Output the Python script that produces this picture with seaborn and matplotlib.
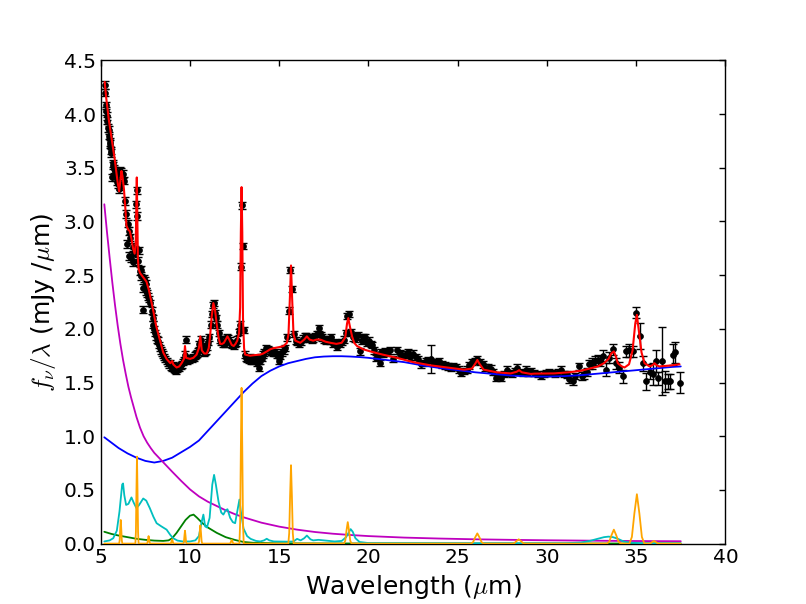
import matplotlib
matplotlib.use("Agg")
import matplotlib.pyplot as plt
import seaborn as sns
import pandas as pd

# ---------------- data ----------------
DATA_X = [5.22, 5.25, 5.28, 5.31, 5.34, 5.37, 5.41, 5.44, 5.47, 5.50, 5.53, 5.56, 5.60, 5.62, 5.66, 5.70,
          5.75, 5.79, 5.84, 5.88, 5.93, 5.97, 6.02, 6.06, 6.10, 6.16, 6.22, 6.29, 6.35, 6.41, 6.47, 6.53,
          6.56, 6.60, 6.66, 6.72, 6.78, 6.81, 6.87, 6.93, 6.98, 7.02, 7.05, 7.10, 7.15, 7.19, 7.24, 7.28,
          7.34, 7.38, 7.43, 7.47, 7.52, 7.56,
          7.60, 7.66, 7.72, 7.78, 7.85, 7.90, 7.94, 8.00, 8.06, 8.12, 8.17, 8.22, 8.28, 8.31, 8.37, 8.43,
          8.50, 8.56, 8.62, 8.69, 8.75, 8.81, 8.88, 8.94, 8.97, 9.03, 9.10, 9.16, 9.22, 9.28, 9.34, 9.40,
          9.47, 9.53, 9.60, 9.66, 9.72, 9.78, 9.84, 9.90, 9.96, 10.03, 10.09, 10.15, 10.22, 10.28, 10.34,
          10.40, 10.47, 10.53, 10.59, 10.65, 10.72, 10.78, 10.84, 10.90, 10.97, 11.03, 11.09, 11.15, 11.22,
          11.28, 11.35, 11.41, 11.47, 11.53, 11.60, 11.66, 11.72, 11.78, 11.84, 11.90, 11.97, 12.03, 12.09,
          12.15, 12.22, 12.28, 12.34, 12.40, 12.47, 12.53, 12.59, 12.65, 12.72, 12.78, 12.84, 12.90, 12.97,
          13.03, 13.09, 13.15, 13.22, 13.28, 13.34, 13.40, 13.47, 13.53, 13.59, 13.66, 13.72, 13.78, 13.84,
          13.90, 13.97, 14.03, 14.09, 14.15,
          14.25, 14.35, 14.45, 14.55, 14.65, 14.75, 14.85, 14.96, 15.05, 15.15, 15.25, 15.34, 15.44, 15.53,
          15.62, 15.72, 15.82, 15.92, 16.02, 16.12, 16.22, 16.32, 16.42, 16.52, 16.62, 16.72, 16.82, 16.92,
          17.02, 17.12, 17.22, 17.32, 17.42, 17.52, 17.62, 17.72, 17.82, 17.92, 18.02, 18.12, 18.22, 18.32,
          18.42, 18.52, 18.62, 18.72, 18.82, 18.92, 19.02, 19.12, 19.22, 19.32, 19.42, 19.52, 19.62, 19.72,
          19.82, 19.92, 20.02, 20.12, 20.22, 20.32, 20.42, 20.52, 20.62, 20.72, 20.82, 20.92,
          21.05, 21.20, 21.40, 21.60, 21.75, 21.90, 22.05, 22.20, 22.35, 22.50, 22.65, 22.80, 22.92, 23.05,
          23.20, 23.35, 23.50, 23.65, 23.80, 23.95, 24.10, 24.30, 24.45, 24.60, 24.75, 24.90, 25.05, 25.20,
          25.35, 25.50, 25.65, 25.80, 25.95, 26.10, 26.25, 26.40, 26.55, 26.70, 26.85, 27.00, 27.15, 27.30,
          27.45, 27.60, 27.75, 27.90, 28.05, 28.20, 28.35, 28.50, 28.65, 28.80, 28.95, 29.10, 29.30, 29.48,
          29.66, 29.82, 29.96, 30.12, 30.30, 30.45, 30.60, 30.79, 30.95, 31.10, 31.25, 31.44, 31.60, 31.80,
          31.97, 32.10, 32.25, 32.38, 32.52, 32.70, 32.85, 33.00, 33.12, 33.30, 33.50, 33.69, 33.87, 34.06,
          34.25, 34.44, 34.60, 34.80, 35.00, 35.20, 35.37, 35.56, 35.75, 35.93, 36.10, 36.25, 36.45, 36.60,
          36.78, 36.92, 37.06, 37.20, 37.43]
DATA_Y = [4.27, 4.20, 4.08, 4.03, 3.98, 3.94, 3.87, 3.85, 3.80, 3.74, 3.72, 3.66, 3.64, 3.41, 3.54, 3.52,
          3.49, 3.47, 3.43, 3.41, 3.37, 3.35, 3.30, 3.33, 3.47, 3.46, 3.44, 3.38, 3.19, 3.07, 2.79, 2.98,
          2.68, 2.91, 2.85, 2.66, 2.76, 2.62, 2.71, 2.74, 3.16, 3.29, 3.05, 2.63, 2.73, 2.54, 2.55, 2.49,
          2.18, 2.38, 2.47, 2.45, 2.42, 2.35,
          2.33, 2.30, 2.28, 2.24, 2.17, 2.10, 2.04, 2.00, 1.96, 1.93, 1.90, 1.89, 1.85, 1.82, 1.80, 1.78,
          1.76, 1.74, 1.72, 1.70, 1.68, 1.67, 1.68, 1.65, 1.64, 1.66, 1.63, 1.62, 1.61, 1.63, 1.65, 1.64,
          1.66, 1.67, 1.69, 1.71, 1.76, 1.90, 1.70, 1.72, 1.71, 1.73, 1.72, 1.74, 1.73, 1.75, 1.76,
          1.77, 1.79, 1.86, 1.90, 1.84, 1.79, 1.78, 1.79, 1.80, 1.83, 1.88, 1.92, 2.04, 2.14,
          2.22, 2.24, 2.15, 2.10, 2.04, 1.96, 1.90, 1.88, 1.89, 1.86, 1.88, 1.86, 1.90, 1.92,
          1.91, 1.89, 1.86, 1.85, 1.87, 1.84, 1.86, 1.87, 1.90, 1.97, 2.04, 2.58, 3.15, 2.77,
          1.99, 1.76, 1.73, 1.72, 1.71, 1.74, 1.70, 1.72, 1.70, 1.73, 1.71, 1.73, 1.68, 1.64,
          1.70, 1.74, 1.73, 1.76, 1.78,
          1.82, 1.81, 1.80, 1.79, 1.78, 1.78, 1.76, 1.70, 1.75, 1.78, 1.80, 1.82, 1.92, 2.17,
          2.55, 2.37, 1.95, 1.89, 1.88, 1.86, 1.88, 1.91, 1.93, 1.93, 1.91, 1.92, 1.90, 1.91,
          1.93, 1.95, 2.01, 1.94, 1.92, 1.90, 1.89, 1.90, 1.89, 1.92, 1.86, 1.88, 1.83, 1.87,
          1.86, 1.88, 1.90, 1.96, 2.12, 2.14, 1.97, 1.92, 1.91, 1.93, 1.94, 1.79, 1.89, 1.92,
          1.92, 1.87, 1.89, 1.86, 1.85, 1.80, 1.73, 1.75, 1.68, 1.78, 1.77, 1.79,
          1.78, 1.80, 1.72, 1.80, 1.77, 1.76, 1.76, 1.78, 1.74, 1.77, 1.74, 1.72, 1.67, 1.68,
          1.70, 1.71, 1.72, 1.68, 1.69, 1.70, 1.67, 1.66, 1.65, 1.64, 1.65, 1.645, 1.62, 1.59,
          1.61, 1.62, 1.66, 1.69, 1.70, 1.72, 1.69, 1.67, 1.64, 1.64, 1.63, 1.60, 1.54, 1.57,
          1.54, 1.58, 1.62, 1.59, 1.58, 1.61, 1.64, 1.60, 1.59, 1.62, 1.59, 1.61, 1.59, 1.58,
          1.56, 1.58, 1.59, 1.60, 1.59, 1.58, 1.60, 1.62, 1.58, 1.575, 1.53, 1.51, 1.56, 1.65,
          1.56, 1.575, 1.60, 1.67, 1.68, 1.70, 1.71, 1.70, 1.75, 1.62, 1.73, 1.81, 1.68, 1.64,
          1.56, 1.79, 1.80, 1.79, 2.15, 1.93, 1.68, 1.51, 1.60, 1.58, 1.70, 1.54, 1.70, 1.51,
          1.51, 1.51, 1.76, 1.78, 1.50]
DATA_ERR = ([0.035] * 54 + [0.03] * 108 + [0.03] * 68 +
            [0.03] * 16 + [0.13] + [0.03] * 53 +
            [0.04, 0.04, 0.04, 0.04, 0.05, 0.05, 0.05, 0.05, 0.05, 0.06, 0.05, 0.05, 0.05, 0.05,
             0.06, 0.05, 0.06, 0.05, 0.05, 0.12, 0.07, 0.08, 0.07, 0.10, 0.10, 0.06, 0.32, 0.10,
             0.07, 0.07, 0.10, 0.10, 0.10])

FIT_X = [5.22, 5.30, 5.45, 5.60, 5.79, 5.95, 6.03, 6.10, 6.16, 6.22, 6.30, 6.38, 6.44, 6.55, 6.63, 6.72,
         6.81, 6.90, 6.96, 6.99, 7.02, 7.05, 7.08, 7.12, 7.20, 7.38, 7.56, 7.70, 7.94, 8.10, 8.31, 8.50,
         8.69, 8.90, 9.00, 9.06, 9.25, 9.40, 9.53, 9.66, 9.72, 9.78, 10.00, 10.19, 10.37, 10.50, 10.58,
         10.66, 10.80, 10.94, 11.05, 11.12, 11.22, 11.31, 11.40, 11.50, 11.60, 11.69, 11.80, 11.90, 12.00,
         12.10, 12.20, 12.34, 12.45, 12.55, 12.65, 12.75, 12.81, 12.85, 12.89, 12.93, 12.97, 13.03, 13.09,
         13.37, 13.60, 13.93, 14.10, 14.31, 14.50, 14.68, 15.00, 15.24, 15.43, 15.52, 15.60, 15.66, 15.72,
         15.80, 15.90, 16.18, 16.40, 16.55, 16.70, 16.90, 17.10, 17.30, 17.60, 17.87, 18.20, 18.50, 18.70,
         18.80, 18.87, 18.95, 19.08, 19.20, 19.36, 19.70, 20.10, 20.80, 21.60, 22.50, 23.48, 24.40, 25.35,
         25.80, 26.00, 26.10, 26.20, 26.45, 27.20, 27.97, 28.30, 28.44, 28.60, 29.10, 29.30, 30.40, 31.20,
         31.90, 32.40, 32.85, 33.20, 33.45, 33.60, 33.75, 33.87, 33.97, 34.20, 34.35, 34.60, 34.80, 34.95,
         35.04, 35.15, 35.30, 35.47, 35.75, 35.90, 36.03, 36.15, 36.30, 37.00, 37.43]
FIT_Y = [4.30, 4.16, 3.95, 3.78, 3.57, 3.36, 3.28, 3.38, 3.47, 3.42, 3.30, 3.12, 2.96, 2.92, 2.91, 2.84,
         2.75, 2.70, 2.80, 3.10, 3.41, 3.05, 2.66, 2.56, 2.52, 2.48, 2.44, 2.36, 2.17, 2.03, 1.90, 1.78,
         1.72, 1.68, 1.70, 1.67, 1.64, 1.65, 1.68, 1.72, 1.84, 1.73, 1.72, 1.73, 1.76, 1.82, 1.93,
         1.80, 1.77, 1.77, 1.82, 1.92, 2.12, 2.24, 2.18, 2.04, 1.92, 1.86, 1.86, 1.87, 1.90,
         1.93, 1.90, 1.85, 1.84, 1.86, 1.89, 1.96, 2.20, 2.90, 3.32, 2.90, 2.10, 1.82, 1.76,
         1.75, 1.755, 1.76, 1.77, 1.79, 1.81, 1.82, 1.83, 1.84, 1.87, 1.95, 2.30, 2.59, 2.30,
         1.95, 1.89, 1.87, 1.90, 1.93, 1.90, 1.89, 1.90, 1.90, 1.88, 1.87, 1.86, 1.87, 1.92,
         2.05, 2.10, 2.03, 1.93, 1.87, 1.84, 1.81, 1.79, 1.76, 1.73, 1.69, 1.66, 1.64, 1.62,
         1.63, 1.68, 1.71, 1.68, 1.62, 1.595, 1.585, 1.60, 1.615, 1.595, 1.58, 1.583, 1.585, 1.595,
         1.61, 1.63, 1.65, 1.68, 1.72, 1.77, 1.79, 1.74, 1.68, 1.65, 1.64, 1.67, 1.80, 2.05,
         2.13, 1.98, 1.78, 1.68, 1.65, 1.66, 1.68, 1.66, 1.65, 1.66, 1.67]

CONT_X = [5.2, 5.6, 6.0, 6.5, 7.0, 7.5, 8.0, 8.5, 9.0, 9.5, 10.0, 10.5, 11.0, 11.5, 12.0, 12.5, 13.0,
          13.5, 14.0, 14.5, 15.0, 15.5, 16.0, 16.5, 17.0, 17.5, 18.0, 18.5, 19.0, 19.5, 20.0, 21.0, 22.0,
          23.0, 24.0, 25.0, 26.0, 27.0, 28.0, 29.0, 30.0, 31.0, 32.0, 33.0, 34.0, 35.0, 36.0, 37.0, 37.5]
CONT_Y = [0.99, 0.94, 0.89, 0.84, 0.80, 0.77, 0.755, 0.77, 0.80, 0.85, 0.90, 0.96, 1.05, 1.14, 1.23,
          1.32, 1.41, 1.49, 1.56, 1.61, 1.65, 1.68, 1.70, 1.72, 1.735, 1.742, 1.745, 1.745, 1.742, 1.737,
          1.73, 1.71, 1.69, 1.66, 1.635, 1.615, 1.595, 1.58, 1.565, 1.557, 1.555, 1.56, 1.57, 1.585, 1.60,
          1.615, 1.63, 1.645, 1.65]

HOT_X = [5.2, 5.35, 5.5, 5.65, 5.8, 5.95, 6.1, 6.25, 6.4, 6.55, 6.7, 6.85, 7.0, 7.2, 7.4, 7.6, 7.8,
         8.0, 8.2, 8.4, 8.6, 8.8, 9.0, 9.5, 10.0, 10.5, 11.0, 11.5, 12.0, 12.5, 13.0, 14.0, 15.0, 16.0,
         17.0, 18.0, 19.0, 20.0, 22.0, 24.0, 26.0, 28.0, 30.0, 32.0, 34.0, 36.0, 37.5]
HOT_Y = [3.16, 2.90, 2.66, 2.43, 2.22, 2.03, 1.86, 1.71, 1.58, 1.46, 1.36, 1.27, 1.18, 1.08, 1.00,
         0.94, 0.89, 0.845, 0.81, 0.775, 0.74, 0.705, 0.67, 0.585, 0.505, 0.44, 0.39, 0.35, 0.31, 0.275,
         0.245, 0.195, 0.158, 0.13, 0.108, 0.092, 0.08, 0.07, 0.056, 0.047, 0.04, 0.035, 0.031, 0.028,
         0.025, 0.023, 0.022]

SIL_X = [5.2, 5.6, 6.0, 6.5, 7.0, 7.5, 8.0, 8.5, 8.8, 9.0, 9.25, 9.5, 9.75, 10.0, 10.2, 10.4, 10.7, 11.0,
         11.5, 12.0, 12.5, 13.0, 13.5, 14.5, 16.0, 20.0, 25.0, 30.0, 37.5]
SIL_Y = [0.11, 0.09, 0.075, 0.06, 0.045, 0.035, 0.028, 0.025, 0.03, 0.05, 0.10, 0.16, 0.22, 0.26, 0.27,
         0.24, 0.19, 0.15, 0.10, 0.06, 0.035, 0.015, 0.008, 0.004, 0.002, 0.001, 0.001, 0.001, 0.001]

PAH_X = [5.2, 5.5, 5.7, 5.9, 6.05, 6.2, 6.25, 6.32, 6.42, 6.55, 6.72, 6.85, 7.0, 7.15, 7.38, 7.55, 7.75,
         7.95, 8.13, 8.4, 8.69, 8.9, 9.06, 9.3, 9.6, 10.0, 10.3, 10.5, 10.65, 10.75, 10.85, 10.95, 11.1,
         11.25, 11.35, 11.45, 11.6, 11.75, 11.87, 12.0, 12.1, 12.25, 12.4, 12.53, 12.65, 12.77, 12.85,
         13.0, 13.2, 13.4, 13.7, 13.94, 14.15, 14.3, 14.45, 14.7, 15.5, 15.8, 16.0, 16.2, 16.4, 16.55,
         16.75, 16.9, 17.2, 17.5, 17.8, 18.1, 18.5, 18.75, 19.0, 19.12, 19.27, 19.5, 20.0, 25.0, 31.0,
         31.9, 32.4, 32.85, 33.2, 33.45, 33.7, 33.97, 34.3, 34.7, 35.5, 37.5]
PAH_Y = [0.02, 0.03, 0.05, 0.12, 0.30, 0.55, 0.56, 0.45, 0.36, 0.37, 0.43, 0.38, 0.33, 0.36, 0.42, 0.40,
         0.33, 0.25, 0.19, 0.16, 0.13, 0.08, 0.05, 0.028, 0.02, 0.02, 0.03, 0.07, 0.20, 0.27, 0.16, 0.15,
         0.24, 0.55, 0.64, 0.55, 0.39, 0.29, 0.27, 0.31, 0.32, 0.24, 0.20, 0.19, 0.30, 0.41, 0.30,
         0.14, 0.07, 0.044, 0.025, 0.02, 0.03, 0.045, 0.03, 0.02, 0.018, 0.02, 0.044, 0.03, 0.05, 0.075,
         0.04, 0.03, 0.035, 0.03, 0.025, 0.02, 0.025, 0.06, 0.135, 0.11, 0.05, 0.015, 0.005, 0.003, 0.003,
         0.01, 0.025, 0.045, 0.06, 0.065, 0.06, 0.045, 0.02, 0.008, 0.003, 0.003]

LINE_X = [5.2,
          6.03, 6.06, 6.09, 6.12, 6.15, 6.18, 6.21,
          6.94, 6.97, 7.00, 7.03, 7.06, 7.09, 7.12,
          7.59, 7.62, 7.65, 7.68, 7.71, 7.74, 7.77,
          8.91, 8.94, 8.97, 9.00, 9.03, 9.06, 9.09,
          9.63, 9.66, 9.69, 9.72, 9.75, 9.78, 9.81,
          10.475, 10.51, 10.545, 10.58, 10.615, 10.65, 10.685,
          12.235, 12.27, 12.305, 12.34, 12.375, 12.41, 12.445,
          12.77, 12.81, 12.85, 12.89, 12.93, 12.97, 13.01,
          15.51, 15.56, 15.61, 15.66, 15.71, 15.76, 15.81,
          18.63, 18.70, 18.77, 18.84, 18.91, 18.98, 19.05,
          25.74, 25.86, 25.98, 26.10, 26.22, 26.34, 26.46,
          28.06, 28.18, 28.30, 28.42, 28.54, 28.66, 28.78,
          33.36, 33.49, 33.62, 33.75, 33.88, 34.01, 34.14,
          34.62, 34.76, 34.90, 35.04, 35.18, 35.32, 35.46,
          35.70, 35.80, 35.90, 36.00, 36.10, 36.20, 36.30,
          37.5]
LINE_Y = [0.0,
          0.0, 0.03, 0.134, 0.22, 0.134, 0.03, 0.0,
          0.0, 0.11, 0.49, 0.81, 0.49, 0.11, 0.0,
          0.0, 0.01, 0.043, 0.07, 0.043, 0.01, 0.0,
          0.0, 0.005, 0.024, 0.04, 0.024, 0.005, 0.0,
          0.0, 0.016, 0.073, 0.12, 0.073, 0.016, 0.0,
          0.0, 0.023, 0.104, 0.17, 0.104, 0.023, 0.0,
          0.0, 0.005, 0.021, 0.035, 0.021, 0.005, 0.0,
          0.0, 0.196, 0.885, 1.45, 0.885, 0.196, 0.0,
          0.0, 0.099, 0.445, 0.73, 0.445, 0.099, 0.0,
          0.0, 0.027, 0.122, 0.20, 0.122, 0.027, 0.0,
          0.0, 0.013, 0.058, 0.095, 0.058, 0.013, 0.0,
          0.0, 0.005, 0.024, 0.04, 0.024, 0.005, 0.0,
          0.0, 0.018, 0.079, 0.13, 0.079, 0.018, 0.0,
          0.0, 0.062, 0.281, 0.46, 0.281, 0.062, 0.0,
          0.0, 0.003, 0.015, 0.025, 0.015, 0.003, 0.0,
          0.0]

X_TICKS = [5, 10, 15, 20, 25, 30, 35, 40]
Y_TICKS = [0.0, 0.5, 1.0, 1.5, 2.0, 2.5, 3.0, 3.5, 4.0, 4.5]

# ---------------- styling (classic matplotlib look) ----------------
sns.set_style("white")
plt.rcParams.update({
    "font.family": ["DejaVu Sans"],
    "mathtext.fontset": "cm",
    "text.color": "black",
    "axes.labelcolor": "black",
    "xtick.color": "black",
    "ytick.color": "black",
    "xtick.direction": "in",
    "ytick.direction": "in",
    "xtick.top": True,
    "ytick.right": True,
    "xtick.major.size": 4,
    "ytick.major.size": 4,
    "xtick.major.width": 1,
    "ytick.major.width": 1,
    "axes.linewidth": 1.0,
    "axes.edgecolor": "black",
})

fig = plt.figure(figsize=(8.06, 6.04), dpi=100)
ax = fig.add_axes([0.125, 0.1, 0.775, 0.8])

data = pd.DataFrame({"x": DATA_X, "y": DATA_Y, "err": DATA_ERR})
ax.errorbar(data["x"], data["y"], yerr=data["err"], fmt="none", ecolor="black",
            elinewidth=1.0, capsize=3, capthick=1.0, zorder=2)
sns.scatterplot(data=data, x="x", y="y", ax=ax, color="black", s=18, marker="o",
                edgecolor="black", linewidth=0.5, zorder=3, legend=False)

def curve(xs, ys, color, lw=1.0, z=4):
    df = pd.DataFrame({"x": xs, "y": ys})
    sns.lineplot(data=df, x="x", y="y", ax=ax, color=color, linewidth=lw,
                 estimator=None, sort=False, legend=False, zorder=z)

curve(CONT_X, CONT_Y, "#0000FF", 1.3)
curve(HOT_X, HOT_Y, "#BF00BF", 1.3)
curve(SIL_X, SIL_Y, "#008000", 1.3)
curve(PAH_X, PAH_Y, "#00BFBF", 1.3)
curve(LINE_X, LINE_Y, "orange", 1.3)
curve(FIT_X, FIT_Y, "#FF0000", 1.5, z=5)

ax.set_xlim(5, 40)
ax.set_ylim(0, 4.5)
ax.set_xticks(X_TICKS)
ax.set_yticks(Y_TICKS)
ax.set_xticklabels([str(t) for t in X_TICKS])
ax.set_yticklabels([f"{t:.1f}" for t in Y_TICKS])
ax.tick_params(labelsize=14.5, length=4, direction="in", top=True, right=True,
               colors="black")
ax.set_xlabel(r"Wavelength ($\mu$m)", fontsize=18, color="black")
ax.set_ylabel(r"$f_\nu/\lambda$ (mJy /$\mu$m)", fontsize=18, color="black")

fig.savefig("out.png", dpi=100)
